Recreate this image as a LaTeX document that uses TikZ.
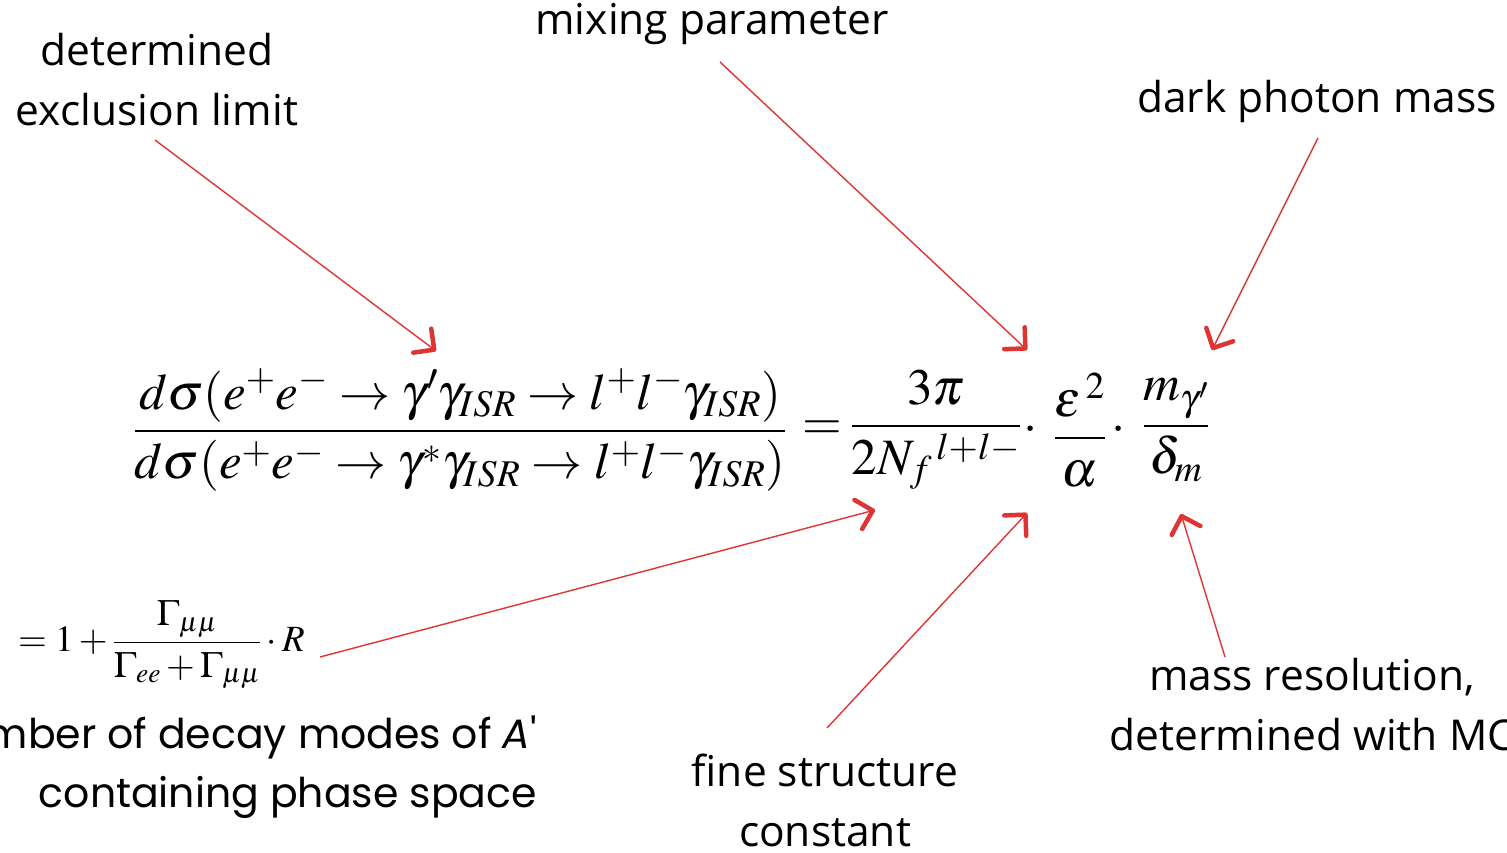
\documentclass[tikz,border=0pt]{standalone}
\usepackage{amsmath}
\usepackage{mathptmx}
\usepackage[no-math]{fontspec}
\setmainfont{Open Sans}
\newfontfamily\comicfont{Poppins}
\usetikzlibrary{arrows.meta}
\definecolor{arrred}{RGB}{222,52,52}
\tikzset{
  lbl/.style={font=\fontsize{42.5}{60}\selectfont, align=center, inner sep=0pt},
  comic/.style={font=\comicfont\fontsize{41}{59}\selectfont, align=right, inner sep=0pt},
  ptr/.style={draw=arrred, line width=1.4pt, -{Straight Barb[length=15pt,width=30pt,line width=4.5pt,round]}},
  eq/.style={font=\fontsize{51}{58}\selectfont, inner sep=0pt},
  smalleq/.style={font=\fontsize{37}{42}\selectfont, inner sep=0pt},
}
\begin{document}
\begin{tikzpicture}[x=1pt,y=-1pt]
\useasboundingbox (0,0) rectangle (1507,853);
\clip (0,0) rectangle (1507,853);
% main equation
\node[eq] (lhs) at (460,430) {$\dfrac{d\sigma(e^+e^-\to\gamma'\gamma_{ISR}\to l^+l^-\gamma_{ISR})}{d\sigma(e^+e^-\to\gamma^*\gamma_{ISR}\to l^+l^-\gamma_{ISR})}$};
\node[eq] (eqs) at (822,430) {$=$};
\node[eq] (nf) at (936,430) {$\dfrac{3\pi}{2N_f{}^{\,l+l-}}$};
\node[eq] (d1) at (1031,430) {$\cdot$};
\node[eq] (eps) at (1080,430) {$\dfrac{\varepsilon^{\,2}}{\alpha}$};
\node[eq] (d2) at (1119,430) {$\cdot$};
\node[eq] (mg) at (1176,430) {$\dfrac{m_{\gamma'}}{\delta_m}$};
% labels
\node[lbl] (excl) at (157,80) {determined\\exclusion limit};
\node[lbl] (mix) at (712,24) {mixing parameter};
\node[lbl] (dpm) at (1317,101) {dark photon mass};
\node[lbl] (mres) at (1312,705) {mass resolution,\\determined with MC};
\node[lbl] (fsc) at (825,800) {fine structure\\constant};
\node[comic, anchor=east] (modes) at (537,767) {Number of decay modes of {\itshape A}'\\containing phase space};
\node[smalleq, anchor=west] (rform) at (18,645) {$\displaystyle =1+\frac{\Gamma_{\mu\mu}}{\Gamma_{ee}+\Gamma_{\mu\mu}}\cdot R$};
% arrow points
\coordinate (s1) at (155,140); \coordinate (t1) at (436,351);
\coordinate (s2) at (720,62);  \coordinate (t2) at (1027,350);
\coordinate (s3) at (1318,138); \coordinate (t3) at (1212,350);
\coordinate (s4) at (320,657); \coordinate (t4) at (875,510);
\coordinate (s5) at (827,728); \coordinate (t5) at (1027,513);
\coordinate (s6) at (1225,657); \coordinate (t6) at (1181,514);
\draw[ptr] (s1) -- (t1);
\draw[ptr] (s2) -- (t2);
\draw[ptr] (s3) -- (t3);
\draw[ptr] (s4) -- (t4);
\draw[ptr] (s5) -- (t5);
\draw[ptr] (s6) -- (t6);
\end{tikzpicture}
\end{document}
